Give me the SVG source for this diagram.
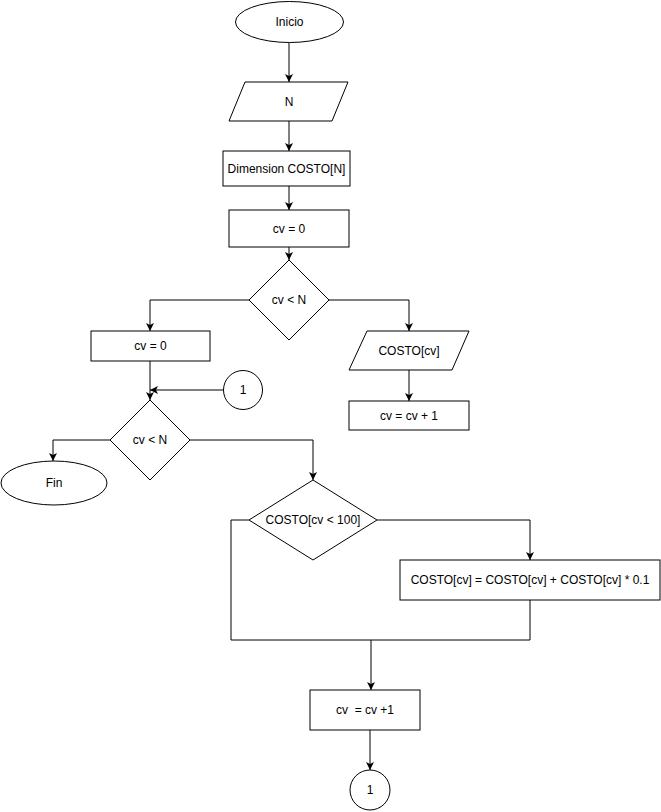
<svg xmlns="http://www.w3.org/2000/svg" width="661" height="812" viewBox="0 0 661 812">
  <style>
    .shape { fill: #ffffff; stroke: #000000; stroke-width: 1; }
    .edge { fill: none; stroke: #000000; stroke-width: 1; }
    .label { font-family: "Liberation Sans", Arial, sans-serif; font-size: 12px; fill: #000000; text-anchor: middle; dominant-baseline: central; }
  </style>
  <defs>
    <marker id="arrow" viewBox="0 0 10 10" refX="10" refY="5" markerWidth="8" markerHeight="8" markerUnits="userSpaceOnUse" orient="auto">
      <path d="M0,0 L10,5 L0,10 L2.5,5 Z" fill="#000000"/>
    </marker>
  </defs>
  <rect width="661" height="812" fill="#ffffff"/>

  <g id="connectors">
    <path class="edge" d="M289,43 V82" marker-end="url(#arrow)"/>
    <path class="edge" d="M289,121 V151" marker-end="url(#arrow)"/>
    <path class="edge" d="M289,186 V210" marker-end="url(#arrow)"/>
    <path class="edge" d="M289,247 V260" marker-end="url(#arrow)"/>
    <path class="edge" d="M249,300 H150 V331" marker-end="url(#arrow)"/>
    <path class="edge" d="M329,300 H409 V331" marker-end="url(#arrow)"/>
    <path class="edge" d="M409,370 V401" marker-end="url(#arrow)"/>
    <path class="edge" d="M150,361 V400" marker-end="url(#arrow)"/>
    <path class="edge" d="M224,390 H150" marker-end="url(#arrow)"/>
    <path class="edge" d="M110,440 H53 V461" marker-end="url(#arrow)"/>
    <path class="edge" d="M190,440 H313 V480" marker-end="url(#arrow)"/>
    <path class="edge" d="M377,520 H530 V560" marker-end="url(#arrow)"/>
    <path class="edge" d="M249,520 H231 V640 H530 V600"/>
    <path class="edge" d="M371,640 V690" marker-end="url(#arrow)"/>
    <path class="edge" d="M370,730 V770" marker-end="url(#arrow)"/>
  </g>

  <g id="inicio">
    <ellipse class="shape" cx="289.5" cy="22" rx="54" ry="20.5"/>
    <text class="label" x="289.5" y="22">Inicio</text>
  </g>
  <g id="leer-n">
    <polygon class="shape" points="245,82 348,82 332,121 229,121"/>
    <text class="label" x="289" y="101.5">N</text>
  </g>
  <g id="dimension">
    <rect class="shape" x="223" y="151" width="127" height="35"/>
    <text class="label" x="286.5" y="168.5">Dimension COSTO[N]</text>
  </g>
  <g id="init-cv-1">
    <rect class="shape" x="229" y="210" width="120" height="37"/>
    <text class="label" x="289" y="228.5">cv = 0</text>
  </g>
  <g id="cond-cv-1">
    <polygon class="shape" points="289,260 329,300 289,340 249,300"/>
    <text class="label" x="289" y="300">cv &lt; N</text>
  </g>
  <g id="leer-costo">
    <polygon class="shape" points="367,331 469,331 452,370 349,370"/>
    <text class="label" x="409" y="350.5">COSTO[cv]</text>
  </g>
  <g id="incr-cv-1">
    <rect class="shape" x="349" y="401" width="120" height="29"/>
    <text class="label" x="409" y="415.5">cv = cv + 1</text>
  </g>
  <g id="init-cv-2">
    <rect class="shape" x="91" y="331" width="119" height="30"/>
    <text class="label" x="150.5" y="346">cv = 0</text>
  </g>
  <g id="conector-1-in">
    <circle class="shape" cx="243" cy="390" r="19.5"/>
    <text class="label" x="243" y="390">1</text>
  </g>
  <g id="cond-cv-2">
    <polygon class="shape" points="150,400 190,440 150,480 110,440"/>
    <text class="label" x="150" y="440">cv &lt; N</text>
  </g>
  <g id="fin">
    <ellipse class="shape" cx="54" cy="483" rx="53" ry="22"/>
    <text class="label" x="54" y="483">Fin</text>
  </g>
  <g id="cond-costo">
    <polygon class="shape" points="313,480 377,520 313,560 249,520"/>
    <text class="label" x="313" y="520">COSTO[cv &lt; 100]</text>
  </g>
  <g id="aumento">
    <rect class="shape" x="400" y="560" width="260" height="40"/>
    <text class="label" x="530" y="580">COSTO[cv] = COSTO[cv] + COSTO[cv] * 0.1</text>
  </g>
  <g id="incr-cv-2">
    <rect class="shape" x="310" y="690" width="110" height="40"/>
    <text class="label" x="365" y="710" xml:space="preserve">cv  = cv +1</text>
  </g>
  <g id="conector-1-out">
    <circle class="shape" cx="370" cy="790" r="20"/>
    <text class="label" x="370" y="790">1</text>
  </g>
</svg>
